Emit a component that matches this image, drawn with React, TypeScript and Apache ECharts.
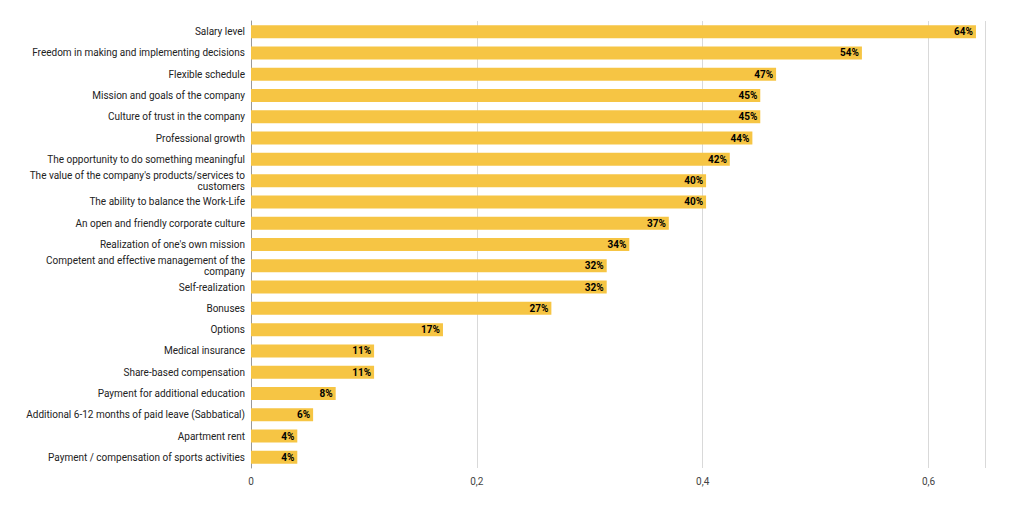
import React, { useEffect, useRef } from 'react'
import * as echarts from 'echarts'

const categories = [
  'Salary level',
  'Freedom in making and implementing decisions',
  'Flexible schedule',
  'Mission and goals of the company',
  'Culture of trust in the company',
  'Professional growth',
  'The opportunity to do something meaningful',
  "The value of the company's products/services to\ncustomers",
  'The ability to balance the Work-Life',
  'An open and friendly corporate culture',
  "Realization of one's own mission",
  'Competent and effective management of the\ncompany',
  'Self-realization',
  'Bonuses',
  'Options',
  'Medical insurance',
  'Share-based compensation',
  'Payment for additional education',
  'Additional 6-12 months of paid leave (Sabbatical)',
  'Apartment rent',
  'Payment / compensation of sports activities',
]
const values = [
  0.642, 0.541, 0.465, 0.451, 0.451, 0.444, 0.424, 0.403, 0.403, 0.37, 0.335,
  0.315, 0.315, 0.266, 0.17, 0.109, 0.109, 0.075, 0.055, 0.041, 0.041,
]

export default function App() {
  const ref = useRef<HTMLDivElement>(null)
  useEffect(() => {
    const chart = echarts.init(ref.current, null, { renderer: 'svg' })
    chart.setOption({
      animation: false,
      textStyle: { fontFamily: 'Roboto, Arial, sans-serif' },
      grid: { left: 243, right: 31, top: 13, bottom: 30 },
      xAxis: {
        type: 'value',
        min: 0,
        max: 0.65,
        interval: 0.2,
        axisLine: { show: false },
        axisTick: { show: false },
        splitLine: { lineStyle: { color: '#d9d9d9' } },
        axisLabel: {
          color: '#444',
          fontSize: 10,
          showMaxLabel: false,
          formatter: (v: number) => (v === 0 ? '0' : v.toFixed(1).replace('.', ',')),
        },
      },
      yAxis: {
        type: 'category',
        data: categories,
        inverse: true,
        axisLine: { lineStyle: { color: '#999' } },
        axisTick: { show: false },
        axisLabel: { color: '#222', fontSize: 10, lineHeight: 11, margin: 6, align: 'right' },
      },
      series: [
        {
          type: 'bar',
          data: values,
          barWidth: 13,
          itemStyle: { color: '#f6c544' },
          label: {
            show: true,
            position: 'insideRight',
            distance: 3,
            color: '#000',
            fontWeight: 'bold',
            fontSize: 10,
            formatter: (p: any) => Math.round(p.value * 100) + '%',
          },
        },
      ],
    })
    return () => chart.dispose()
  }, [])
  return <div ref={ref} style={{ width: 1008, height: 490 }} />
}
